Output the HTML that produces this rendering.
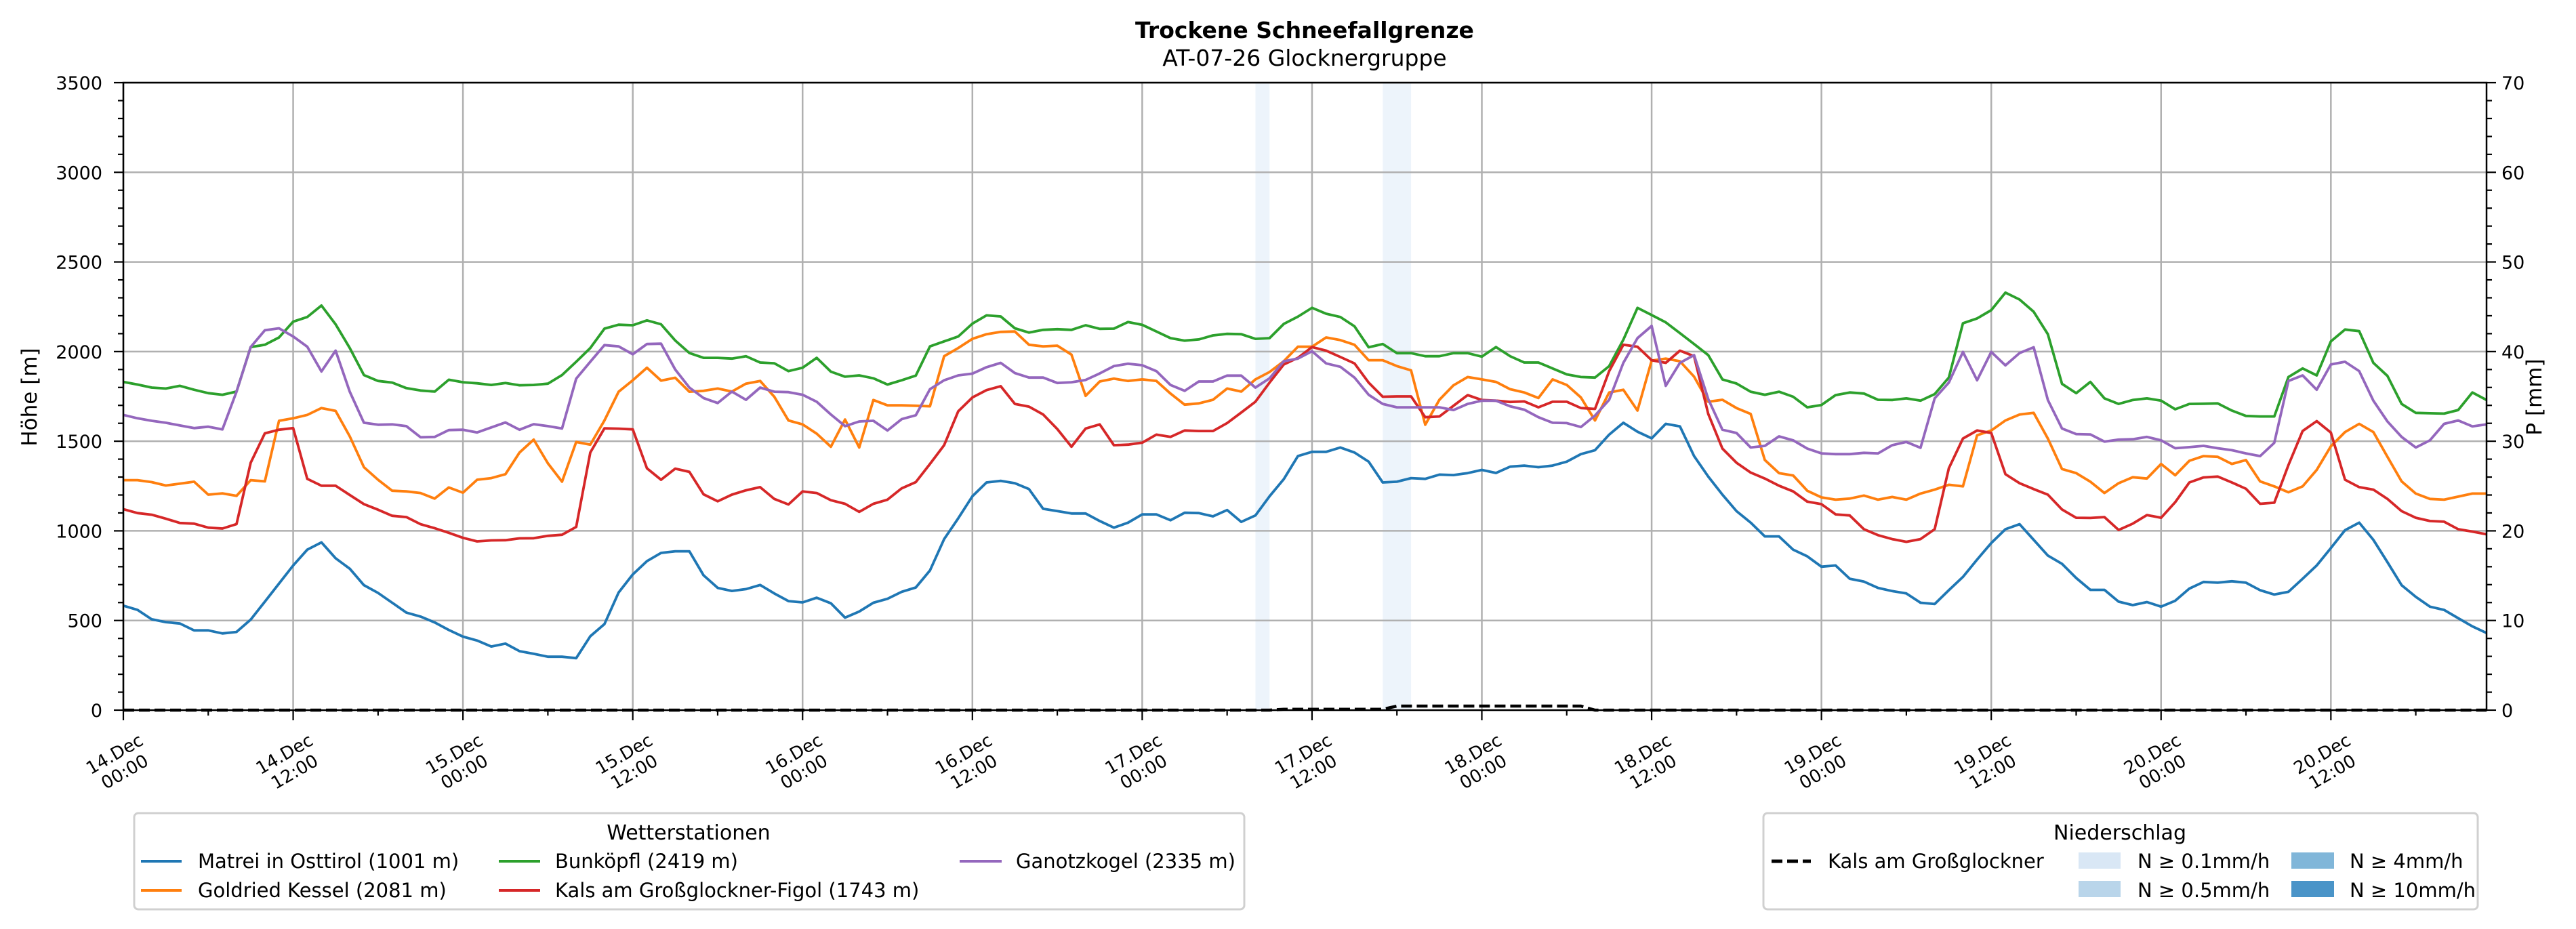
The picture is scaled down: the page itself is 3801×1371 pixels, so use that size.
<!DOCTYPE html>
<html><head><meta charset="utf-8"><style>
html,body{margin:0;padding:0;background:#fff;}
svg{display:block;font-family:"DejaVu Sans","Liberation Sans",sans-serif;}
</style></head><body>
<svg id="chart" width="3801" height="1371" viewBox="0 0 3801 1371" xmlns="http://www.w3.org/2000/svg">
<rect x="0" y="0" width="3801" height="1371" fill="#fff"/>
<text x="1925" y="56" text-anchor="middle" font-size="33" font-weight="bold">Trockene Schneefallgrenze</text>
<text x="1925" y="97" text-anchor="middle" font-size="33">AT-07-26 Glocknergruppe</text>
<g id="spans"></g>
<g id="grid"></g>
<g id="series"></g>
<g id="axes"></g>
<text transform="translate(54,586) rotate(-90)" text-anchor="middle" font-size="31">Höhe [m]</text>
<text transform="translate(3750,586) rotate(-90)" text-anchor="middle" font-size="31">P [mm]</text>

<g>
<rect x="198" y="1200" width="1638" height="142" rx="6" fill="#fff" stroke="#d0d0d0" stroke-width="3"/>
<text x="1016" y="1239" text-anchor="middle" font-size="30">Wetterstationen</text>
<g><line x1="208" y1="1271" x2="268" y2="1271" stroke="#1f77b4" stroke-width="4"/><text x="292" y="1281" font-size="29">Matrei in Osttirol (1001 m)</text></g>
<g><line x1="208" y1="1314" x2="268" y2="1314" stroke="#ff7f0e" stroke-width="4"/><text x="292" y="1324" font-size="29">Goldried Kessel (2081 m)</text></g>
<g><line x1="736" y1="1271" x2="797" y2="1271" stroke="#2ca02c" stroke-width="4"/><text x="819" y="1281" font-size="29">Bunköpfl (2419 m)</text></g>
<g><line x1="736" y1="1314" x2="797" y2="1314" stroke="#d62728" stroke-width="4"/><text x="819" y="1324" font-size="29">Kals am Großglockner-Figol (1743 m)</text></g>
<g><line x1="1416" y1="1271" x2="1478" y2="1271" stroke="#9467bd" stroke-width="4"/><text x="1499" y="1281" font-size="29">Ganotzkogel (2335 m)</text></g>
</g>

<g>
<rect x="2602" y="1200" width="1054" height="142" rx="6" fill="#fff" stroke="#d0d0d0" stroke-width="3"/>
<text x="3128" y="1239" text-anchor="middle" font-size="30">Niederschlag</text>
<g><line x1="2614" y1="1271" x2="2672" y2="1271" stroke="#000" stroke-width="5" stroke-dasharray="16,7"/><text x="2697" y="1281" font-size="29">Kals am Großglockner</text></g>
<g><rect x="3067" y="1258" width="62" height="24" fill="#d9e7f5"/><text x="3154" y="1281" font-size="29">N ≥ 0.1mm/h</text></g>
<g><rect x="3067" y="1300" width="62" height="24" fill="#b9d5ea"/><text x="3154" y="1324" font-size="29">N ≥ 0.5mm/h</text></g>
<g><rect x="3381" y="1258" width="63" height="24" fill="#80b6d9"/><text x="3467" y="1281" font-size="29">N ≥ 4mm/h</text></g>
<g><rect x="3381" y="1300" width="63" height="24" fill="#4a94c8"/><text x="3467" y="1324" font-size="29">N ≥ 10mm/h</text></g>
</g>
</svg>
<script>
const NS="http://www.w3.org/2000/svg";
const matrei=[583,559,507,491,483,445,445,428,436,505,605,706,807,895,936,847,789,697,654,599,544,522,489,447,410,388,355,371,329,314,298,298,290,412,480,656,757,831,877,886,886,752,682,
665,675,698,651,608,601,627,596,516,550,599,621,660,684,779,954,1070,1193,1270,1279,1266,1233,1123,1110,1097,1097,1055,1018,1046,1092,1092,1059,1101,1099,1081,1116,1050,1086,1193,1288,1417,
1441,1441,1465,1437,1386,1270,1274,1294,1290,1314,1311,1322,1340,1323,1358,1364,1355,1364,1386,1428,1450,1537,1603,1553,1516,1597,1583,1417,1303,1202,1110,1046,969,969,895,858,800,807,733,717,682,664,
651,599,592,669,743,840,932,1009,1037,950,862,816,737,671,671,605,586,603,577,610,678,715,711,719,711,669,645,660,733,807,904,1004,1046,950,825,697,632,577,559,513,467,430];
const goldried=[1283,1283,1272,1253,1263,1274,1202,1209,1195,1283,1276,1614,1628,1647,1685,1669,1527,1355,1285,1224,1220,1211,1180,1242,1213,1285,1294,1316,1437,1509,1377,1274,1496,1481,1616,1776,1840,1910,1838,1854,1776,1781,1794,
1777,1821,1836,1748,1616,1594,1542,1469,1621,1465,1730,1700,1700,1698,1695,1974,2020,2071,2097,2110,2112,2038,2029,2033,1983,1753,1833,1849,1836,1845,1836,1766,1704,1711,1731,1794,1777,1845,1886,1946,2027,
2027,2079,2064,2038,1952,1952,1919,1895,1592,1731,1812,1858,1845,1831,1790,1772,1741,1845,1814,1744,1616,1772,1787,1671,1950,1961,1946,1860,1720,1731,1685,1652,1395,1322,1309,1224,1187,1174,1180,1197,1174,1189,
1174,1208,1230,1257,1248,1533,1560,1616,1649,1658,1515,1345,1322,1274,1211,1266,1299,1292,1373,1310,1391,1417,1413,1373,1395,1276,1248,1215,1248,1340,1472,1551,1597,1551,1413,1276,1208,1178,1174,1191,1208,1208];
const bunkoepfl=[1831,1816,1799,1794,1809,1787,1768,1759,1777,2025,2038,2079,2167,2193,2257,2152,2020,1869,1836,1827,1796,1783,1777,1843,1829,1823,1814,1825,1812,1814,1821,1869,1943,2020,2128,2150,2147,2174,2152,2062,1992,1965,1965,
1961,1974,1939,1935,1891,1910,1965,1888,1860,1867,1851,1816,1840,1866,2029,2057,2084,2156,2202,2196,2130,2106,2121,2125,2121,2147,2127,2128,2165,2149,2112,2075,2061,2068,2090,2099,2097,2071,2075,2154,2195,
2244,2211,2193,2141,2024,2042,1991,1991,1974,1974,1991,1991,1972,2025,1974,1939,1939,1906,1873,1858,1855,1919,2066,2244,2204,2163,2103,2042,1980,1845,1822,1776,1759,1776,1748,1689,1702,1757,1772,1766,1731,1730,
1739,1726,1763,1855,2158,2185,2231,2329,2290,2222,2097,1820,1768,1831,1739,1708,1730,1739,1726,1678,1708,1709,1711,1671,1641,1638,1638,1858,1906,1867,2057,2123,2114,1937,1864,1708,1658,1656,1654,1674,1772,1730];
const kalsFigol=[1121,1099,1090,1068,1044,1040,1018,1013,1038,1380,1544,1564,1573,1290,1252,1252,1200,1149,1118,1084,1077,1037,1015,989,961,941,947,948,958,959,972,978,1022,1437,1572,1570,1566,1349,1285,1347,1329,1204,1165,
1202,1226,1244,1178,1147,1220,1211,1171,1151,1106,1151,1174,1237,1272,1373,1478,1667,1744,1785,1807,1708,1693,1649,1568,1469,1571,1594,1478,1481,1492,1537,1524,1560,1557,1557,1601,1660,1720,1827,1928,1965,
2025,2005,1970,1934,1827,1748,1750,1750,1634,1638,1698,1757,1730,1726,1719,1722,1689,1720,1720,1685,1680,1891,2038,2027,1952,1937,2005,1974,1652,1459,1380,1325,1292,1252,1220,1163,1149,1092,1086,1009,976,954,
939,954,1009,1349,1515,1560,1546,1316,1266,1233,1202,1119,1073,1072,1077,1005,1040,1088,1073,1160,1270,1298,1303,1270,1235,1151,1157,1367,1557,1612,1548,1285,1244,1230,1178,1110,1073,1055,1051,1009,996,981];
const ganotzkogel=[1647,1628,1614,1603,1588,1573,1581,1566,1776,2025,2119,2130,2084,2027,1889,2005,1776,1603,1592,1594,1584,1522,1524,1562,1564,1549,1577,1605,1564,1595,1584,1571,1849,1943,2036,2029,1985,2042,2044,1900,1799,1741,1713,
1777,1731,1799,1776,1774,1759,1720,1649,1584,1610,1614,1560,1623,1645,1790,1840,1867,1877,1913,1937,1880,1855,1855,1825,1829,1842,1878,1919,1932,1924,1891,1814,1781,1833,1833,1866,1866,1799,1851,1946,1961,
2002,1934,1915,1855,1759,1708,1689,1689,1689,1689,1674,1708,1726,1726,1695,1676,1634,1603,1601,1579,1643,1731,1937,2075,2143,1809,1937,1980,1735,1564,1546,1465,1474,1527,1505,1459,1432,1428,1428,1435,1432,1478,
1496,1463,1739,1827,1998,1840,1998,1923,1992,2024,1730,1571,1540,1538,1498,1509,1511,1524,1505,1461,1467,1474,1461,1450,1432,1417,1491,1836,1867,1787,1928,1943,1891,1726,1610,1524,1465,1505,1597,1616,1583,1594];
const precipHours=[82,83,84,85,86,87,88,89,90,91,92,93,94,95,96,97,98,99,100,101,102,103];
const precipValues=[0.1,0.1,0.1,0.1,0.1,0.1,0.1,0.1,0.45,0.45,0.45,0.45,0.45,0.45,0.45,0.45,0.45,0.45,0.45,0.45,0.45,0.45];
const spanStarts=[80,89];
const spanEnds=[81,91];
const yTicks=[0,500,1000,1500,2000,2500,3000,3500];
const y2Ticks=[0,10,20,30,40,50,60,70];
const xTickLabels=[["14.Dec","00:00"],["14.Dec","12:00"],["15.Dec","00:00"],["15.Dec","12:00"],["16.Dec","00:00"],["16.Dec","12:00"],["17.Dec","00:00"],["17.Dec","12:00"],["18.Dec","00:00"],["18.Dec","12:00"],["19.Dec","00:00"],["19.Dec","12:00"],["20.Dec","00:00"],["20.Dec","12:00"]];

const L=182,R=3669,T=122,B=1048,NH=167;
const xs=h=>L+(R-L)*h/NH;
const ys=v=>B-(B-T)*v/3500;
const y2s=p=>B-(B-T)*p/70;
function mk(tag,attrs,parent){const e=document.createElementNS(NS,tag);for(const k in attrs)e.setAttribute(k,attrs[k]);parent.appendChild(e);return e;}
const spans=document.getElementById('spans'),grid=document.getElementById('grid'),ser=document.getElementById('series'),axes=document.getElementById('axes');

for(let i=0;i<spanStarts.length;i++){
  const r=mk('rect',{x:xs(spanStarts[i]),y:T,width:xs(spanEnds[i])-xs(spanStarts[i]),height:B-T,fill:'#deebf7',opacity:'0.55'},spans);
  
  
}
yTicks.forEach(v=>{
  const l=mk('line',{x1:L,x2:R,y1:ys(v),y2:ys(v),stroke:'#b0b0b0','stroke-width':2.5},grid);
  
  
});
xTickLabels.forEach((lab,i)=>{
  const x=xs(i*12);
  const l=mk('line',{x1:x,x2:x,y1:T,y2:B,stroke:'#b0b0b0','stroke-width':2.5},grid);
  
  
});

const series=[[matrei,'#1f77b4','series-matrei'],[goldried,'#ff7f0e','series-goldried'],[bunkoepfl,'#2ca02c','series-bunkoepfl'],[kalsFigol,'#d62728','series-kals-figol'],[ganotzkogel,'#9467bd','series-ganotzkogel']];
series.forEach(s=>{
  const d=s[0].map((v,i)=>(i?'L':'M')+xs(i).toFixed(1)+','+ys(v).toFixed(1)).join('');
  const p=mk('path',{d:d,fill:'none',stroke:s[1],'stroke-width':3.8,'stroke-linejoin':'round'},ser);
  
  
});
const pv=[];for(let h=0;h<=NH;h++){const k=precipHours.indexOf(h);pv.push(k>=0?precipValues[k]:0);}
const pd=pv.map((v,i)=>(i?'L':'M')+xs(i).toFixed(1)+','+y2s(v).toFixed(1)).join('');
const pp=mk('path',{d:pd,fill:'none',stroke:'#000','stroke-width':4.5,'stroke-dasharray':'16,7'},ser);



const fr=mk('rect',{x:L,y:T,width:R-L,height:B-T,fill:'none',stroke:'#000','stroke-width':2.5},axes);


for(let v=0;v<=3500;v+=100){
  const major=v%500===0;
  mk('line',{x1:L-(major?14:8),x2:L,y1:ys(v),y2:ys(v),stroke:'#000','stroke-width':2.2},axes);
}
yTicks.forEach(v=>{
  const t=mk('text',{x:L-31,y:ys(v)+10,'text-anchor':'end','font-size':27},axes);t.textContent=v;
  
  
});
for(let p=0;p<=70;p+=2){
  const major=p%10===0;
  mk('line',{x1:R,x2:R+(major?14:8),y1:y2s(p),y2:y2s(p),stroke:'#000','stroke-width':2.2},axes);
}
y2Ticks.forEach(p=>{
  const t=mk('text',{x:R+22,y:y2s(p)+10,'text-anchor':'start','font-size':27},axes);t.textContent=p;
  
  
});
for(let h=0;h<=NH;h+=6){
  const major=h%12===0;
  mk('line',{x1:xs(h),x2:xs(h),y1:B,y2:B+(major?15:8),stroke:'#000','stroke-width':2.2},axes);
}
xTickLabels.forEach((lab,i)=>{
  const cx=xs(i*12)-6,cy=1125;
  const t=mk('text',{transform:`translate(${cx},${cy}) rotate(-30)`,'text-anchor':'middle','font-size':26},axes);
  
  
  const a=mk('tspan',{x:0,y:-5},t);a.textContent=lab[0];
  const b=mk('tspan',{x:0,y:25},t);b.textContent=lab[1];
});
</script>
</body></html>
